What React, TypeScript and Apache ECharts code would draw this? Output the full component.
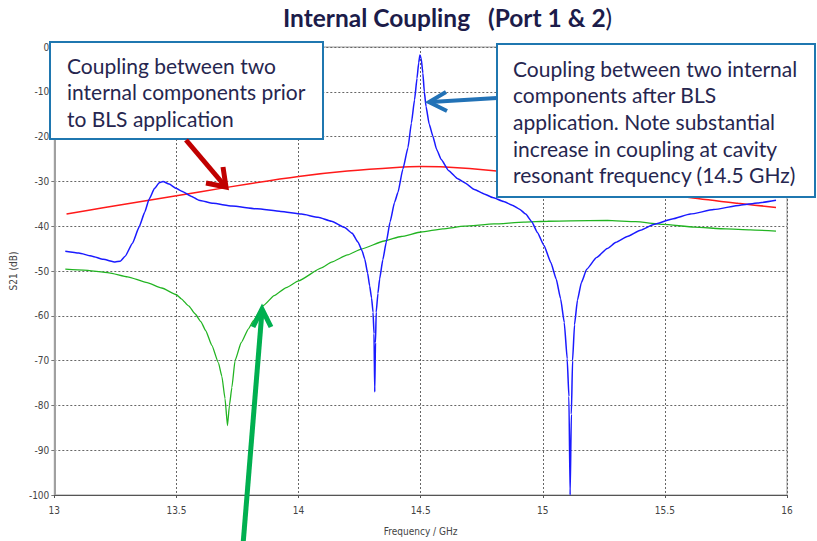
import React, { useEffect, useRef } from "react";
import * as echarts from "echarts";

// ---- data ----
const redFreq = [13.05, 13.2, 13.4, 13.6, 13.8, 14.0, 14.2, 14.4, 14.5, 14.6, 14.8, 15.0, 15.2, 15.4, 15.6, 15.8, 15.955];
const redDb = [-37.3, -35.9, -34.1, -32.3, -30.5, -28.9, -27.7, -26.9, -26.7, -26.8, -27.6, -28.8, -30.2, -32.0, -33.6, -34.9, -35.8];

const greenFreq = [13.045, 13.12, 13.224, 13.3, 13.38, 13.44, 13.5, 13.52, 13.55, 13.577, 13.6, 13.62, 13.645, 13.672, 13.686, 13.699, 13.709, 13.717, 13.727, 13.74, 13.765, 13.795, 13.816, 13.856, 13.9, 13.95, 14.0, 14.094, 14.135, 14.2, 14.257, 14.351, 14.42, 14.502, 14.59, 14.678, 14.8, 14.922, 15.02, 15.114, 15.265, 15.38, 15.494, 15.62, 15.75, 15.85, 15.955];
const greenDb = [-49.6, -49.8, -50.4, -51.3, -52.6, -53.8, -55.3, -56.2, -57.8, -59.6, -61.3, -63.3, -66.6, -70.5, -73.5, -78.5, -84.5, -80, -76, -70, -66, -62.9, -61.0, -57.7, -55.5, -53.7, -52.2, -49.3, -48.0, -46.4, -45.1, -43.3, -42.3, -41.3, -40.6, -40.0, -39.5, -39.1, -38.9, -38.8, -38.7, -39.0, -39.6, -40.2, -40.6, -40.8, -41.1];

const blueFreq = [13.045, 13.1, 13.155, 13.2, 13.249, 13.27, 13.29, 13.32, 13.347, 13.37, 13.388, 13.41, 13.43, 13.445, 13.47, 13.5, 13.522, 13.56, 13.592, 13.65, 13.727, 13.83, 13.927, 14.012, 14.08, 14.135, 14.189, 14.22, 14.244, 14.26, 14.271, 14.283, 14.291, 14.299, 14.305, 14.309, 14.312, 14.315, 14.318, 14.325, 14.332, 14.345, 14.359, 14.375, 14.393, 14.407, 14.427, 14.448, 14.462, 14.475, 14.485, 14.492, 14.497, 14.502, 14.509, 14.515, 14.522, 14.535, 14.55, 14.565, 14.584, 14.615, 14.652, 14.68, 14.72, 14.76, 14.795, 14.84, 14.875, 14.905, 14.93, 14.955, 14.978, 15.005, 15.033, 15.055, 15.073, 15.088, 15.1, 15.107, 15.112, 15.117, 15.122, 15.13, 15.142, 15.158, 15.18, 15.22, 15.264, 15.3, 15.346, 15.4, 15.454, 15.53, 15.604, 15.7, 15.808, 15.88, 15.955];
const blueDb = [-45.6, -46.0, -46.7, -47.4, -48.0, -47.8, -46.7, -43.8, -40.2, -36.9, -34.0, -31.6, -30.3, -30.0, -30.6, -31.6, -32.2, -33.3, -34.2, -34.9, -35.5, -36.1, -36.7, -37.3, -38.0, -38.9, -40.3, -41.6, -43.6, -45.5, -47.3, -50.5, -53.3, -56, -59.2, -64, -77, -66, -59.2, -55, -51.8, -47.5, -43.6, -39, -34.7, -32.5, -27.3, -22.5, -17, -11.8, -7, -3.5, -1.8, -2.5, -5.8, -10, -13.3, -17.2, -19.9, -22.8, -25.1, -27.6, -29.4, -30.3, -31.8, -32.8, -33.6, -34.5, -35.3, -36.2, -37.3, -39.0, -41.4, -44.3, -48.1, -51.8, -56.2, -61.5, -69.6, -78, -100, -82, -70, -62, -56.5, -52.6, -49.6, -47.0, -45.0, -43.6, -42.3, -40.9, -39.6, -38.4, -37.3, -36.3, -35.3, -34.8, -34.2];

const titleText = "Internal Coupling   (Port 1 & 2";
const leftNote = ["Coupling between two", "internal components prior", "to BLS application"];
const rightNote = [
  "Coupling between two internal",
  "components after BLS",
  "application. Note substantial",
  "increase in coupling at cavity",
  "resonant frequency (14.5 GHz)",
];

const zip = (xs: number[], ys: number[]) => xs.map((x, i) => [x, ys[i]]);

const NOTE_FONT = "Lato, 'Open Sans', sans-serif";
const AXIS_FONT = "'Liberation Sans Narrow', 'DejaVu Sans Condensed', 'Liberation Sans', sans-serif";

export default function App() {
  const ref = useRef<HTMLDivElement>(null);
  useEffect(() => {
    const chart = echarts.init(ref.current!, null, { renderer: "svg" });
    const noteColor = "#26264f";
    const boxColor = "#1f77b0";
    const textEl = (t: string, x: number, y: number) => ({
      type: "text",
      z: 101,
      style: { text: t, x, y, fill: noteColor, fontFamily: NOTE_FONT, fontSize: 21, verticalAlign: "middle" },
    });
    chart.setOption({
      animation: false,
      backgroundColor: "#ffffff",
      title: {
        text: "{b|" + titleText + "}{n|)}",
        left: 283,
        top: 5,
        padding: 0,
        textStyle: {
          rich: {
            b: { fontFamily: NOTE_FONT, fontWeight: "bold", fontSize: 24.5, color: "#1c1c4a" },
            n: { fontFamily: NOTE_FONT, fontWeight: "normal", fontSize: 24.5, color: "#1c1c4a" },
          },
        },
      },
      grid: { left: 52, right: 30, top: 47, bottom: 44, show: true, borderColor: "#9a9a9a", borderWidth: 1, backgroundColor: "transparent" },
      xAxis: {
        type: "value",
        min: 13,
        max: 16,
        interval: 0.5,
        name: "Frequency / GHz",
        nameLocation: "middle",
        nameGap: 31,
        nameTextStyle: { fontFamily: AXIS_FONT, fontSize: 10, color: "#444" },
        axisLine: { show: true, onZero: false, lineStyle: { color: "#555", width: 1 } },
        axisTick: { show: true, length: 3, lineStyle: { color: "#555" } },
        axisLabel: { fontFamily: AXIS_FONT, fontSize: 10, color: "#444", margin: 10 },
        splitLine: { show: true, lineStyle: { color: "#666", type: [2, 2], width: 1 } },
      },
      yAxis: {
        type: "value",
        min: -100,
        max: 0,
        interval: 10,
        name: "S21 (dB)",
        nameLocation: "middle",
        nameGap: 34,
        nameTextStyle: { fontFamily: AXIS_FONT, fontSize: 10, color: "#444" },
        axisLine: { show: true, onZero: false, lineStyle: { color: "#a0a0a0", width: 2 } },
        axisTick: { show: true, length: 3, lineStyle: { color: "#777" } },
        axisLabel: { fontFamily: AXIS_FONT, fontSize: 10, color: "#444", margin: 5 },
        splitLine: { show: true, lineStyle: { color: "#666", type: [2, 2], width: 1 } },
      },
      series: [
        { type: "line", data: zip(redFreq, redDb), showSymbol: false, smooth: 0.3, lineStyle: { color: "#ff1a1a", width: 1.5 }, z: 3 },
        { type: "line", data: zip(greenFreq, greenDb), showSymbol: false, smooth: 0.15, smoothMonotone: "x", lineStyle: { color: "#22b422", width: 1.3 }, z: 3 },
        { type: "line", data: zip(blueFreq, blueDb), showSymbol: false, smooth: 0.15, smoothMonotone: "x", lineStyle: { color: "#1a1aff", width: 1.5 }, z: 4 },
      ],
      graphic: [
        { type: "rect", z: 100, shape: { x: 50, y: 42, width: 273, height: 97 }, style: { fill: "#fff", stroke: boxColor, lineWidth: 2 } },
        ...leftNote.map((t, i) => textEl(t, 67, 65 + i * 26.5)),
        { type: "rect", z: 100, shape: { x: 497, y: 44, width: 318, height: 153 }, style: { fill: "#fff", stroke: boxColor, lineWidth: 2 } },
        ...rightNote.map((t, i) => textEl(t, 513, 68 + i * 26.7)),
        // red arrow
        { type: "polyline", z: 102, shape: { points: [[186, 140], [225, 186]] }, style: { stroke: "#c00000", lineWidth: 5, fill: null } },
        { type: "polyline", z: 102, shape: { points: [[206, 183], [226, 187], [223, 167]] }, style: { stroke: "#c00000", lineWidth: 5, fill: null } },
        // blue arrow
        { type: "polyline", z: 102, shape: { points: [[497, 98], [431, 102]] }, style: { stroke: "#2272b6", lineWidth: 4, fill: null } },
        { type: "polyline", z: 102, shape: { points: [[446, 92], [429, 102], [447, 111]] }, style: { stroke: "#2272b6", lineWidth: 4, fill: null } },
        // green arrow
        { type: "polyline", z: 102, shape: { points: [[243, 545], [262, 311]] }, style: { stroke: "#00b050", lineWidth: 5, fill: null } },
        { type: "polyline", z: 102, shape: { points: [[253, 327], [262, 309], [271, 327]] }, style: { stroke: "#00b050", lineWidth: 5, fill: null } },
      ],
    });
    return () => chart.dispose();
  }, []);
  return (
    <div
      ref={ref}
      style={{ position: "fixed", left: 0, top: 0, width: 817, height: 541, background: "#fff" }}
    />
  );
}
